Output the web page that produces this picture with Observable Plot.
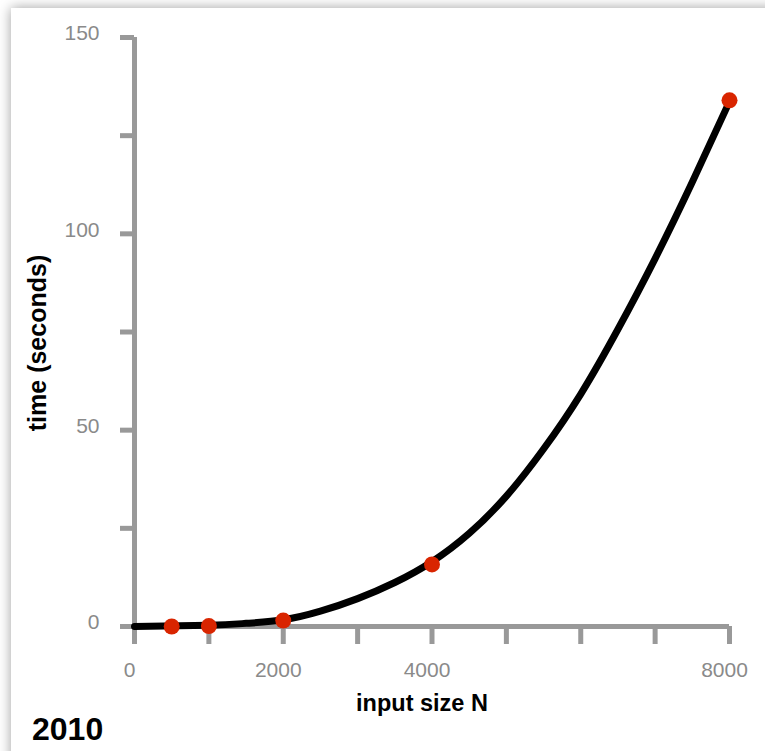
<!DOCTYPE html>
<html>
<head>
<meta charset="utf-8">
<script src="https://cdn.jsdelivr.net/npm/d3@7"></script>
<script src="https://cdn.jsdelivr.net/npm/@observablehq/plot@0.6"></script>
<style>
  html, body { margin: 0; padding: 0; background: #ffffff; overflow: hidden; width: 765px; height: 751px; }
  #card { position: absolute; left: 11px; top: 8px; width: 1000px; height: 1000px; background: #fff;
          box-shadow: 0 0 12px rgba(0,0,0,0.38); }
  #chart { position: absolute; left: 0; top: 0; }
  #year { font-family: "Liberation Sans", Arial, Helvetica, sans-serif; font-weight: bold; font-size: 32px;
          color: #000; line-height: 28px; margin: 5px 0 0 32px; }
</style>
</head>
<body>
<div id="card"></div>
<div id="chart"></div>
<script>
// measured points
const sizes = [500, 1000, 2000, 4000, 8000];
const times = [0.0, 0.1, 1.5, 15.8, 134.0];
// smooth model curve
const curveN = [0, 1000, 1500, 2000, 2500, 3000, 3500, 4000, 4500, 5000, 5500, 6000, 6500, 7000, 7500, 8000];
const curveT = [0, 0.3, 0.8, 1.7, 3.9, 7.1, 11.2, 16.5, 23.7, 33.2, 45.2, 59.2, 75.7, 93.7, 113.2, 133.7];
// ticks
const xTicks = [0, 1000, 2000, 3000, 4000, 5000, 6000, 7000, 8000];
const xTickLabels = [0, 2000, 4000, 8000];
const yTicks = [0, 25, 50, 75, 100, 125, 150];
const yTickLabels = [0, 50, 100, 150];
const xTitle = "input size N";
const yTitle = "time (seconds)";
const yearLabel = "2010";

const points = sizes.map((n, i) => ({n, t: times[i]}));
const curve = curveN.map((n, i) => ({n, t: curveT[i]}));

const axisGray = "#999999";
const labelGray = "#8a8a8a";
const font = '"Liberation Sans", Arial, Helvetica, sans-serif';

const chart = Plot.plot({
  width: 765,
  height: 710,
  marginLeft: 134,
  marginRight: 36,
  marginTop: 37,
  marginBottom: 84,
  style: {fontFamily: font, background: "transparent", overflow: "visible"},
  x: {domain: [0, 8000]},
  y: {domain: [0, 150]},
  marks: [
    // tick marks
    Plot.axisX({ticks: xTicks, tickSize: 18, stroke: axisGray, strokeWidth: 5, text: null, label: null}),
    Plot.axisY({ticks: yTicks, tickSize: 14, stroke: axisGray, strokeWidth: 5, text: null, label: null}),
    // tick labels
    Plot.axisX({ticks: xTickLabels, tickFormat: d => String(d), tickSize: 0, tickPadding: 36, fill: labelGray, fontSize: 21, dx: -5, label: null}),
    Plot.axisY({ticks: yTickLabels, tickFormat: d => String(d), tickSize: 0, tickPadding: 35, fill: labelGray, fontSize: 21, dy: -4, label: null}),
    // axis lines
    Plot.ruleX([0], {stroke: axisGray, strokeWidth: 5}),
    Plot.ruleY([0], {stroke: axisGray, strokeWidth: 5}),
    // axis titles
    Plot.text([xTitle], {frameAnchor: "bottom", text: d => d, textAnchor: "middle", dx: -10, dy: 84, fontSize: 23.5, fontWeight: "bold", fill: "#000"}),
    Plot.text([yTitle], {frameAnchor: "left", text: d => d, textAnchor: "middle", rotate: -90, dx: -97, dy: 11, fontSize: 25, fontWeight: "bold", fill: "#000"}),
    // curve and points
    Plot.line(curve, {x: "n", y: "t", curve: "natural", stroke: "#000", strokeWidth: 7}),
    Plot.dot(points, {x: "n", y: "t", r: 8, fill: "#d92500", stroke: "none"})
  ]
});

const holder = document.getElementById("chart");
holder.appendChild(chart);
const year = document.createElement("div");
year.id = "year";
year.textContent = yearLabel;
holder.appendChild(year);
</script>
</body>
</html>
